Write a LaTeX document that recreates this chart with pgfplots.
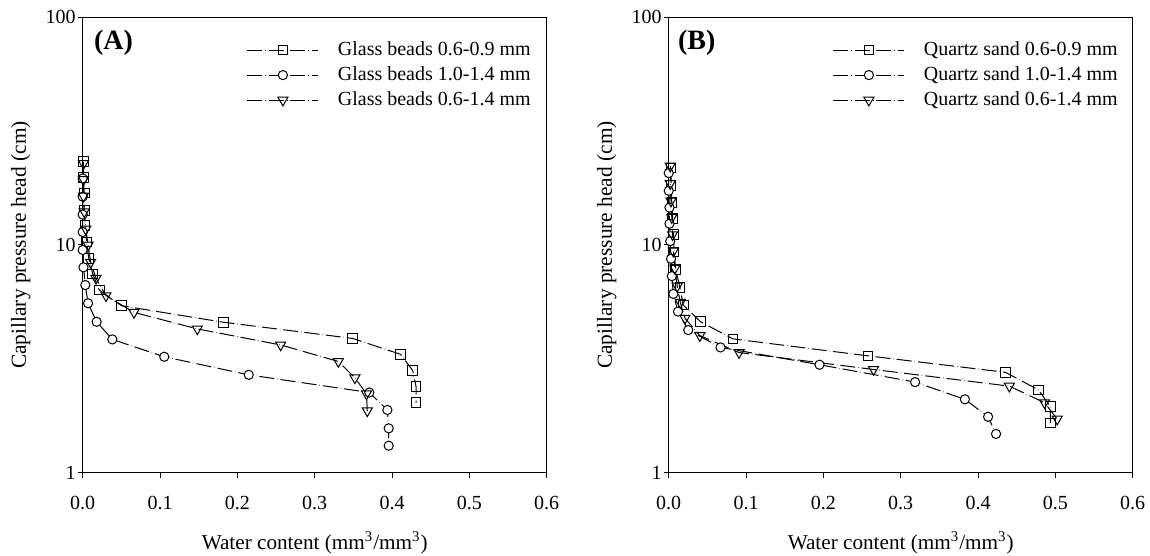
\documentclass[border=0pt]{standalone}
\usepackage{fontspec}
\setmainfont{Liberation Serif}
\usepackage{pgfplots}
\pgfplotsset{compat=1.18}
\pgfplotsset{
  legend image code/.code={\draw[mark repeat=2,mark phase=2,#1] plot coordinates {(0pt,0pt) (17.75pt,0pt) (35.5pt,0pt)};},
}
\pgfplotsset{
  ser/.style={black, line width=0.5pt, dash pattern=on 7.5pt off 1.5pt on 0.2pt off 1.5pt},
  sq/.style={ser, mark=square, mark size=2.4pt, mark options={solid, fill=none}},
  ci/.style={ser, mark=*, mark size=2.3pt, mark options={solid, fill=white}},
  tr/.style={ser, mark=triangle, mark size=2.9pt, mark options={solid, fill=none, rotate=180}},
}
\begin{document}
\begin{tikzpicture}
\useasboundingbox (-41.35pt,-41.65pt) rectangle (533.65pt,236.35pt);
\begin{axis}[at={(0pt,0pt)}, anchor=south west,
    scale only axis, width=232pt, height=227.7pt,
    xmin=0, xmax=0.6, ymode=log, ymin=1, ymax=100,
    xtick={0,0.1,0.2,0.3,0.4,0.5,0.6},
    ytick={1,10,100}, yticklabels={1,10,100}, yminorticks=false,
    tick align=outside, xtick pos=bottom, ytick pos=left, major tick length=2.5pt,
    xticklabel style={/pgf/number format/.cd, fixed, fixed zerofill, precision=1, assume math mode=true, /tikz/.cd, yshift=-5.5pt},
    yticklabel style={xshift=2.5pt},
    tick label style={font=\fontsize{10}{12}\selectfont},
    tick style={black, line width=0.5pt},
    axis line style={line width=0.5pt},
    xlabel={Water content (mm\textsuperscript{3}/mm\textsuperscript{3})},
    ylabel={Capillary pressure head (cm)},
    xlabel style={at={(axis description cs:0.5,-0.1544)}, anchor=center, font=\fontsize{10.6}{13}\selectfont},
    ylabel style={at={(axis description cs:-0.1336,0.5)}, anchor=center, font=\fontsize{10.7}{13}\selectfont},
    legend style={draw=none, fill=none, inner sep=0pt, at={(0.353,0.953)}, anchor=north west,
      font=\fontsize{10}{12}\selectfont, row sep=1.5pt, column sep=8.5pt,
      nodes={inner sep=1pt, text height=7pt, text depth=2pt}},
    legend cell align=left]
\addplot[sq] coordinates {
(0.001,23.2) (0.001,19.8) (0.002,16.9) (0.002,14.2) (0.003,12.2) (0.005,10.3)
(0.0078,8.74) (0.013,7.46) (0.0215,6.34) (0.0504,5.41) (0.1818,4.58) (0.3487,3.89)
(0.4112,3.31) (0.4267,2.81) (0.431,2.39) (0.431,2.03)};
\addlegendentry{Glass beads 0.6-0.9 mm}
\addplot[ci] coordinates {
(0.000,19.6) (0.000,16.3) (0.000,13.6) (0.000,11.4) (0.000,9.51) (0.001,7.98)
(0.0034,6.67) (0.0069,5.55) (0.018,4.60) (0.0383,3.85) (0.1055,3.23) (0.2147,2.69)
(0.3706,2.25) (0.394,1.886) (0.3957,1.566) (0.3957,1.314)};
\addlegendentry{Glass beads 1.0-1.4 mm}
\addplot[tr] coordinates {
(0.001,22.8) (0.001,19.4) (0.001,16.4) (0.002,14.0) (0.004,11.75) (0.007,10.0)
(0.0103,8.40) (0.0172,7.14) (0.0301,5.99) (0.0663,5.06) (0.1482,4.28) (0.256,3.64)
(0.3306,3.08) (0.352,2.61) (0.367,2.22) (0.368,1.87)};
\addlegendentry{Glass beads 0.6-1.4 mm}
\node[anchor=north west, inner sep=0pt, font=\bfseries\fontsize{14}{16}\selectfont] at (rel axis cs:0,1) [xshift=5.5pt, yshift=-6.35pt] {(A)};
\end{axis}
\begin{axis}[at={(293pt,0pt)}, anchor=south west,
    scale only axis, width=232pt, height=227.7pt,
    xmin=0, xmax=0.6, ymode=log, ymin=1, ymax=100,
    xtick={0,0.1,0.2,0.3,0.4,0.5,0.6},
    ytick={1,10,100}, yticklabels={1,10,100}, yminorticks=false,
    tick align=outside, xtick pos=bottom, ytick pos=left, major tick length=2.5pt,
    xticklabel style={/pgf/number format/.cd, fixed, fixed zerofill, precision=1, assume math mode=true, /tikz/.cd, yshift=-5.5pt},
    yticklabel style={xshift=2.5pt},
    tick label style={font=\fontsize{10}{12}\selectfont},
    tick style={black, line width=0.5pt},
    axis line style={line width=0.5pt},
    xlabel={Water content (mm\textsuperscript{3}/mm\textsuperscript{3})},
    ylabel={Capillary pressure head (cm)},
    xlabel style={at={(axis description cs:0.5,-0.1544)}, anchor=center, font=\fontsize{10.6}{13}\selectfont},
    ylabel style={at={(axis description cs:-0.1336,0.5)}, anchor=center, font=\fontsize{10.7}{13}\selectfont},
    legend style={draw=none, fill=none, inner sep=0pt, at={(0.353,0.953)}, anchor=north west,
      font=\fontsize{10}{12}\selectfont, row sep=1.5pt, column sep=8.5pt,
      nodes={inner sep=1pt, text height=7pt, text depth=2pt}},
    legend cell align=left]
\addplot[sq] coordinates {
(0.003,21.8) (0.003,18.3) (0.004,15.4) (0.005,13.1) (0.006,11.1) (0.007,9.3)
(0.009,7.8) (0.0146,6.49) (0.0188,5.45) (0.0412,4.60) (0.0832,3.87) (0.2576,3.26)
(0.4354,2.76) (0.4783,2.31) (0.4934,1.95) (0.4934,1.65)};
\addlegendentry{Quartz sand 0.6-0.9 mm}
\addplot[ci] coordinates {
(0.000,20.7) (0.000,17.3) (0.001,14.6) (0.001,12.4) (0.002,10.4) (0.003,8.7)
(0.004,7.3) (0.006,6.1) (0.012,5.1) (0.0253,4.23) (0.067,3.55) (0.195,2.98)
(0.3186,2.50) (0.383,2.10) (0.413,1.76) (0.4233,1.48)};
\addlegendentry{Quartz sand 1.0-1.4 mm}
\addplot[tr] coordinates {
(0.002,22.2) (0.002,18.6) (0.003,15.6) (0.004,13.2) (0.005,11.1) (0.006,9.4)
(0.008,7.9) (0.011,6.6) (0.015,5.6) (0.021,4.77) (0.0403,4.00) (0.091,3.37)
(0.2649,2.84) (0.4405,2.40) (0.486,2.03) (0.5024,1.72)};
\addlegendentry{Quartz sand 0.6-1.4 mm}
\node[anchor=north west, inner sep=0pt, font=\bfseries\fontsize{14}{16}\selectfont] at (rel axis cs:0,1) [xshift=4.5pt, yshift=-6.35pt] {(B)};
\end{axis}
\end{tikzpicture}
\end{document}
